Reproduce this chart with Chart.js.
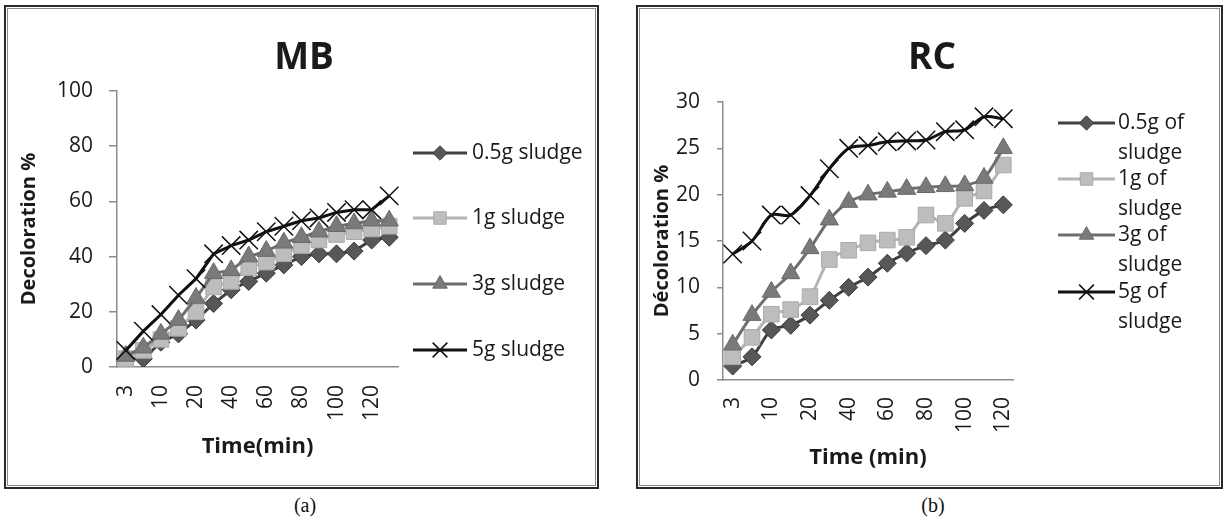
<!DOCTYPE html>
<html>
<head>
<meta charset="utf-8">
<script src="https://cdn.jsdelivr.net/npm/chart.js@4.4.1/dist/chart.umd.min.js"></script>
<style>
    body { margin: 0; width: 1227px; height: 524px; position: relative; overflow: hidden; background: #fff; }
    .panel { position: absolute; top: 5px; height: 484px; box-sizing: border-box; border: 2px solid #2a2a2a; box-shadow: inset 0 0 0 1px #fff, inset 0 0 0 2px #8a8a8a; }
    canvas { position: absolute; top: 0; }
    .caption { position: absolute; top: 494px; font-family: 'Liberation Serif', serif; font-size: 20px; color: #111; transform: translateX(-50%); }
</style>
</head>
<body>
<div class="panel" style="left:4px; width:595px;"></div>
<div class="panel" style="left:636px; width:587px;"></div>
<canvas id="chartMB" width="610" height="490" style="left:0"></canvas>
<canvas id="chartRC" width="607" height="490" style="left:620px"></canvas>
<div class="caption" style="left:305px;">(a)</div>
<div class="caption" style="left:933px;">(b)</div>

<script>
// Decoloration vs time
const timeMB = ['3', '5', '10', '15', '20', '30', '40', '50', '60', '70', '80', '90', '100', '110', '120', '130'];
const timeRC = ['3', '5', '10', '15', '20', '30', '40', '50', '60', '70', '80', '90', '100', '110', '120'];

const labelsMB = ['0.5g sludge', '1g sludge', '3g sludge', '5g sludge'];
const labelsRC = ['0.5g of sludge', '1g of sludge', '3g of sludge', '5g of sludge'];

const mb05 = [3, 3, 9, 12, 17, 23, 28, 31, 34, 37, 40, 41, 41, 42, 46, 47];
const mb1 = [3, 6, 10, 14, 20, 29, 31, 36, 38, 41, 44, 46, 48, 49, 50, 51];
const mb3 = [4, 7, 12, 17, 25, 34, 35, 40, 42, 45, 47, 49, 51, 52, 53, 53];
const mb5 = [6, 13, 19, 26, 32, 41, 44, 46, 49, 51, 53, 54, 56, 57, 57, 62];

const rc05 = [1.5, 2.5, 5.4, 5.9, 7, 8.6, 10, 11.1, 12.6, 13.7, 14.5, 15.1, 16.9, 18.3, 18.9];
const rc1 = [2.5, 4.6, 7.1, 7.6, 9, 13, 14, 14.8, 15.1, 15.4, 17.8, 16.9, 19.6, 20.4, 23.2];
const rc3 = [3.8, 7, 9.5, 11.5, 14.2, 17.3, 19.2, 20, 20.3, 20.6, 20.8, 20.9, 21, 21.8, 25];
const rc5 = [13.6, 15, 17.8, 17.8, 19.9, 22.8, 25, 25.3, 25.7, 25.8, 25.9, 26.8, 27, 28.4, 28.2];

const FONT = "'Open Sans', 'DejaVu Sans', sans-serif";
const TEXT = '#1a1a1a';
const AXIS = '#8c8c8c';

// one style per sludge dose (excel grayscale look)
const seriesStyles = [
    { line: '#404040', width: 3, style: 'rectRot', radius: 9, fill: '#575757', edge: '#3c3c3c', edgeWidth: 1, order: 3 },
    { line: '#b4b4b4', width: 3, style: 'rect', radius: 11, fill: '#bdbdbd', edge: '#aaaaaa', edgeWidth: 1, order: 2 },
    { line: '#6e6e6e', width: 3, style: 'triangle', radius: 10.5, fill: '#7a7a7a', edge: '#6a6a6a', edgeWidth: 1, order: 1 },
    { line: '#111111', width: 3, style: 'crossRot', radius: 13, fill: '#111111', edge: '#111111', edgeWidth: 1.5, order: 0 }
];

function makeDatasets(labels, series, tension) {
    return series.map((values, i) => {
        const s = seriesStyles[i];
        return {
            label: labels[i],
            data: values,
            borderColor: s.line,
            borderWidth: s.width,
            tension: tension,
            pointStyle: s.style,
            pointRadius: s.radius,
            pointHoverRadius: s.radius,
            pointBackgroundColor: s.fill,
            pointBorderColor: s.edge,
            pointBorderWidth: s.edgeWidth,
            order: s.order
        };
    });
}

// title + excel style legend (line with marker in the middle)
const decorPlugin = {
    id: 'decor',
    afterDraw(chart, args, opts) {
        const ctx = chart.ctx;
        ctx.save();
        ctx.fillStyle = TEXT;
        ctx.font = 'bold 37px ' + FONT;
        ctx.textAlign = 'center';
        ctx.textBaseline = 'middle';
        ctx.fillText(opts.title, opts.titleX, opts.titleY);

        ctx.font = '21px ' + FONT;
        ctx.textAlign = 'left';
        chart.data.datasets.forEach((ds, i) => {
            const y = opts.legendY[i];
            ctx.strokeStyle = ds.borderColor;
            ctx.lineWidth = ds.borderWidth;
            ctx.beginPath();
            ctx.moveTo(opts.lineX0, y);
            ctx.lineTo(opts.lineX1, y);
            ctx.stroke();

            ctx.fillStyle = ds.pointBackgroundColor;
            ctx.strokeStyle = ds.pointBorderColor;
            ctx.lineWidth = ds.pointBorderWidth;
            Chart.helpers.drawPoint(ctx, {
                pointStyle: ds.pointStyle,
                radius: ds.pointRadius * 0.8,
                rotation: 0,
                borderWidth: ds.pointBorderWidth
            }, (opts.lineX0 + opts.lineX1) / 2, y);

            // simple word wrap
            const lines = [];
            let cur = '';
            ds.label.split(' ').forEach(word => {
                const test = cur ? cur + ' ' + word : word;
                if (cur && ctx.measureText(test).width > opts.maxWidth) {
                    lines.push(cur);
                    cur = word;
                } else {
                    cur = test;
                }
            });
            lines.push(cur);
            ctx.fillStyle = TEXT;
            lines.forEach((t, k) => ctx.fillText(t, opts.textX, y + k * opts.lineHeight));
        });
        ctx.restore();
    }
};

function makeChart(id, cfg) {
    const ctx = document.getElementById(id).getContext('2d');
    return new Chart(ctx, {
        type: 'line',
        data: {
            labels: cfg.labels,
            datasets: makeDatasets(cfg.names, cfg.series, cfg.tension)
        },
        options: {
            responsive: false,
            animation: false,
            events: [],
            layout: {
                padding: { left: 0, right: cfg.padRight, top: cfg.padTop, bottom: 0 }
            },
            plugins: {
                legend: { display: false },
                title: { display: false },
                tooltip: { enabled: false },
                decor: cfg.decor
            },
            scales: {
                x: {
                    offset: true,
                    grid: { display: false, drawTicks: false },
                    border: { display: true, color: AXIS, width: 1.5 },
                    ticks: {
                        autoSkip: false,
                        minRotation: 90,
                        maxRotation: 90,
                        padding: cfg.xPad,
                        color: TEXT,
                        font: { family: FONT, size: 21 },
                        callback: function(value, index) {
                            return index % 2 === 0 ? this.getLabelForValue(value) : null;
                        }
                    },
                    title: {
                        display: true,
                        text: cfg.xTitle,
                        color: TEXT,
                        font: { family: FONT, size: 22, weight: 'bold' },
                        padding: { top: 0, bottom: cfg.xTitlePad }
                    },
                    afterFit: scale => { scale.height = cfg.xHeight; }
                },
                y: {
                    min: 0,
                    max: cfg.yMax,
                    grid: { drawOnChartArea: false, drawTicks: true, tickLength: cfg.tickLen, color: AXIS, lineWidth: 1.5 },
                    border: { display: true, color: AXIS, width: 1.5 },
                    ticks: {
                        stepSize: cfg.yStep,
                        padding: cfg.yPad,
                        color: TEXT,
                        font: { family: FONT, size: 21 }
                    },
                    title: {
                        display: true,
                        text: cfg.yTitle,
                        color: TEXT,
                        font: { family: FONT, size: 20, weight: 'bold' },
                        padding: { top: cfg.yTitlePad, bottom: 0 }
                    },
                    afterFit: scale => { scale.width = cfg.yWidth; }
                }
            }
        },
        plugins: [decorPlugin]
    });
}

makeChart('chartMB', {
    labels: timeMB,
    names: labelsMB,
    series: [mb05, mb1, mb3, mb5],
    tension: 0,
    padRight: 212,
    padTop: 91,
    xHeight: 123,
    xPad: 18,
    xTitle: 'Time(min)',
    xTitlePad: 30,
    yMax: 100,
    yStep: 20,
    yWidth: 117,
    tickLen: 8,
    yPad: 16,
    yTitle: 'Decoloration %',
    yTitlePad: 17,
    decor: {
        title: 'MB', titleX: 304, titleY: 58,
        legendY: [153, 218, 284, 350],
        lineX0: 413, lineX1: 467, textX: 472,
        maxWidth: 200, lineHeight: 30
    }
});

makeChart('chartRC', {
    labels: timeRC,
    names: labelsRC,
    series: [rc05, rc1, rc3, rc5],
    tension: 0.3,
    padRight: 214,
    padTop: 102,
    xHeight: 110,
    xPad: 17,
    xTitle: 'Time (min)',
    xTitlePad: 19,
    yMax: 30,
    yStep: 5,
    yWidth: 103,
    tickLen: 6,
    yPad: 17,
    yTitle: 'Décoloration %',
    yTitlePad: 30,
    decor: {
        title: 'RC', titleX: 312, titleY: 58,
        legendY: [123, 179, 235, 292],
        lineX0: 438, lineX1: 495, textX: 498,
        maxWidth: 100, lineHeight: 30
    }
});
</script>
</body>
</html>
